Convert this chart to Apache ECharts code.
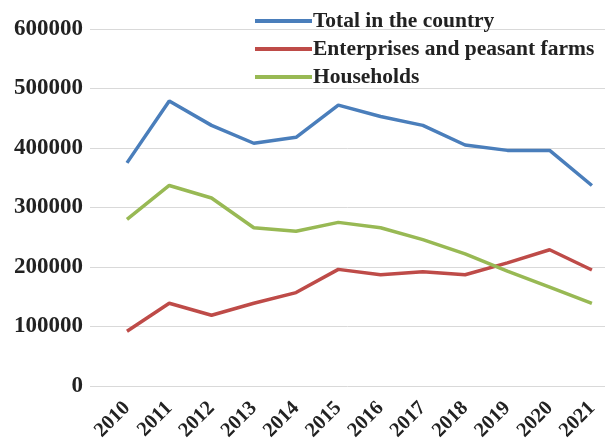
<!DOCTYPE html>
<html><head><meta charset="utf-8">
<script src="https://cdn.jsdelivr.net/npm/echarts@6/dist/echarts.min.js"></script>
<style>html,body{margin:0;padding:0;background:#fff}#c{width:609px;height:448px}</style>
</head><body><div id="c"></div>
<script>
const years = [2010,2011,2012,2013,2014,2015,2016,2017,2018,2019,2020,2021];
const totalCountry = [375000,479000,438000,408000,418000,472000,453000,438000,405000,396000,396000,337000];
const enterprises = [92000,139000,119000,139000,157000,196000,187000,192000,187000,207000,229000,195000];
const households = [280000,337000,316000,266000,260000,275000,266000,246000,222000,193000,166000,139000];
const yTicks = [0,100000,200000,300000,400000,500000,600000];
const names = ['Total in the country','Enterprises and peasant farms','Households'];
const colors = ['#4A7EBB','#BE4B48','#98B954'];
const font = '"Liberation Serif","Times New Roman",serif';
const pairs = arr => years.map((y,i)=>[y,arr[i]]);
const chart = echarts.init(document.getElementById('c'));
chart.setOption({
  animation:false,
  grid:{left:90,right:4,top:29,bottom:62},
  legend:{
    orient:'vertical', left:255, top:10, padding:0, itemGap:6,
    icon:'rect', itemWidth:57, itemHeight:4,
    textStyle:{fontFamily:font,fontSize:21.5,fontWeight:'bold',color:'#222',lineHeight:22,padding:[0,0,0,-4]},
    data:names
  },
  xAxis:{
    type:'value', min:2009.125, max:2021.31,
    axisLine:{show:false}, axisTick:{show:false}, splitLine:{show:false},
    axisLabel:{customValues:years, rotate:45, margin:19, fontFamily:font, fontSize:20.5, fontWeight:'bold', color:'#222', formatter:v=>String(Math.round(v))}
  },
  yAxis:{
    type:'value', min:0, max:600000, interval:100000,
    axisLine:{show:false}, axisTick:{show:false},
    splitLine:{lineStyle:{color:'#D9D9D9',width:1}},
    axisLabel:{margin:7, fontFamily:font, fontSize:23, fontWeight:'bold', color:'#222', customValues:yTicks, formatter:v=>String(v)}
  },
  series:[
    {name:names[0],type:'line',data:pairs(totalCountry),symbol:'none',lineStyle:{width:3.5,color:colors[0]},itemStyle:{color:colors[0]}},
    {name:names[1],type:'line',data:pairs(enterprises),symbol:'none',lineStyle:{width:3.5,color:colors[1]},itemStyle:{color:colors[1]}},
    {name:names[2],type:'line',data:pairs(households),symbol:'none',lineStyle:{width:3.5,color:colors[2]},itemStyle:{color:colors[2]}}
  ]
});
</script></body></html>
